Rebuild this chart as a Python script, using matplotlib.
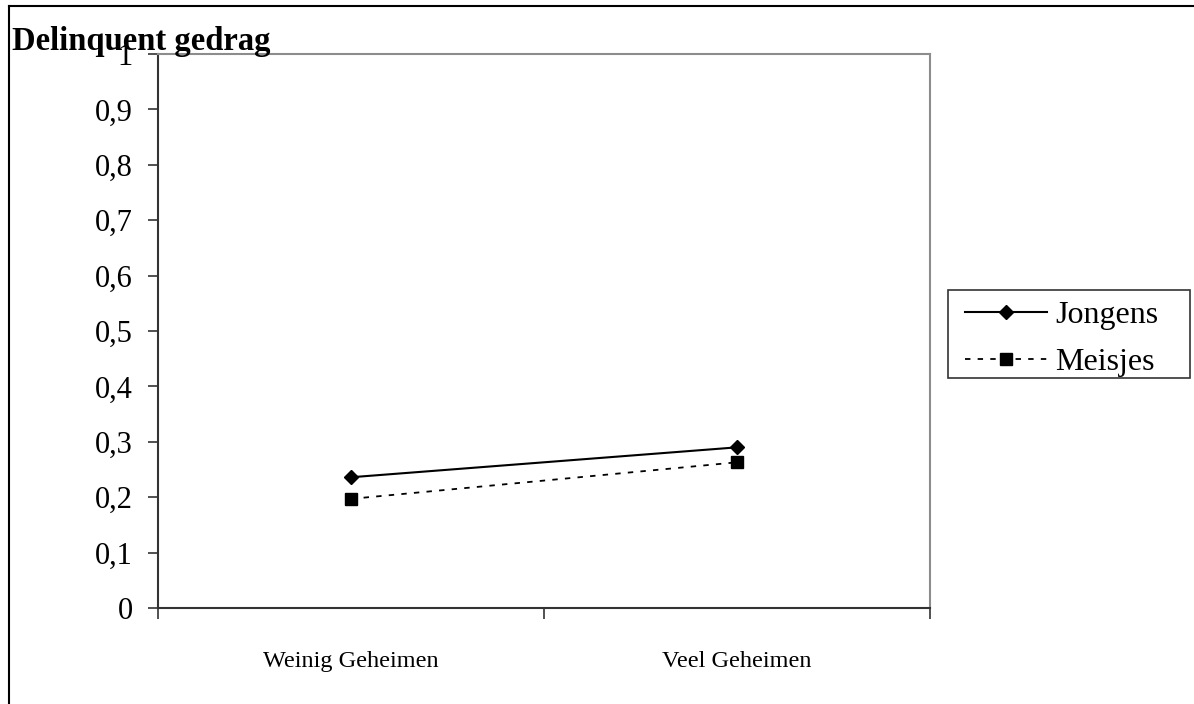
import matplotlib
matplotlib.use("Agg")
import matplotlib.pyplot as plt
from matplotlib.lines import Line2D
from matplotlib.patches import Rectangle

categories = ["Weinig Geheimen", "Veel Geheimen"]
jongens = [0.236, 0.290]
meisjes = [0.197, 0.263]
series_names = ["Jongens", "Meisjes"]
y_ticks = [0, 0.1, 0.2, 0.3, 0.4, 0.5, 0.6, 0.7, 0.8, 0.9, 1.0]
y_tick_labels = ["0", "0,1", "0,2", "0,3", "0,4", "0,5", "0,6", "0,7", "0,8", "0,9", "1"]
title = "Delinquent gedrag"

plt.rcParams['font.family'] = ['Liberation Serif', 'DejaVu Serif']

W, H = 1194, 704
fig = plt.figure(figsize=(W / 100, H / 100), dpi=100)
ax = fig.add_axes([158 / W, 1 - 608 / H, (930 - 158) / W, (608 - 54) / H])

x = list(range(len(categories)))
ax.plot(x, jongens, color='black', lw=1.5, marker='D', ms=7.5, mfc='black', mec='black',
        label=series_names[0])
ax.plot(x, meisjes, color='black', lw=1.3, dashes=(3, 4), marker='s', ms=8.5,
        mfc='black', mec='black', label=series_names[1])

ax.set_xlim(-0.5, 1.5)
ax.set_ylim(0, 1)
ax.set_yticks(y_ticks)
ax.set_yticklabels(y_tick_labels, fontsize=22)
ax.tick_params(axis='y', length=7, width=1.2, pad=11, color='#333333')

ax.set_xticks([-0.5, 0.5, 1.5])
ax.set_xticklabels([])
ax.set_xticks(x, minor=True)
ax.set_xticklabels(categories, minor=True, fontsize=17.5)
ax.tick_params(axis='x', which='major', length=8, width=1.2, color='#333333')
ax.tick_params(axis='x', which='minor', length=0, pad=31)

for s in ['left', 'bottom']:
    ax.spines[s].set_color('#333333')
    ax.spines[s].set_linewidth(1.5)
for s in ['top', 'right']:
    ax.spines[s].set_color('#8c8c8c')
    ax.spines[s].set_linewidth(1.5)

# legend frame drawn separately to match the wider box
fig.add_artist(Rectangle((948 / W, 1 - 378 / H), (1190 - 948) / W, (378 - 290) / H,
                         transform=fig.transFigure, fill=False, edgecolor='#333333', lw=1.2))
leg = fig.legend(loc='upper left', bbox_to_anchor=(959 / W, 1 - 294 / H), fontsize=23,
                 frameon=False, handlelength=2.55, handletextpad=0.25,
                 borderpad=0.2, labelspacing=0.55, borderaxespad=0)

fig.text(12 / W, 1 - 50 / H, title, fontsize=23.5, fontweight='bold', ha='left', va='baseline')

# outer chart border (cut at right and bottom)
x0 = 9 / W
ytop = 1 - 6 / H
fig.add_artist(Line2D([x0, 1.0], [ytop, ytop], color='black', lw=1.5, transform=fig.transFigure))
fig.add_artist(Line2D([x0, x0], [0, ytop], color='black', lw=1.5, transform=fig.transFigure))

fig.savefig("out.png", dpi=100)
